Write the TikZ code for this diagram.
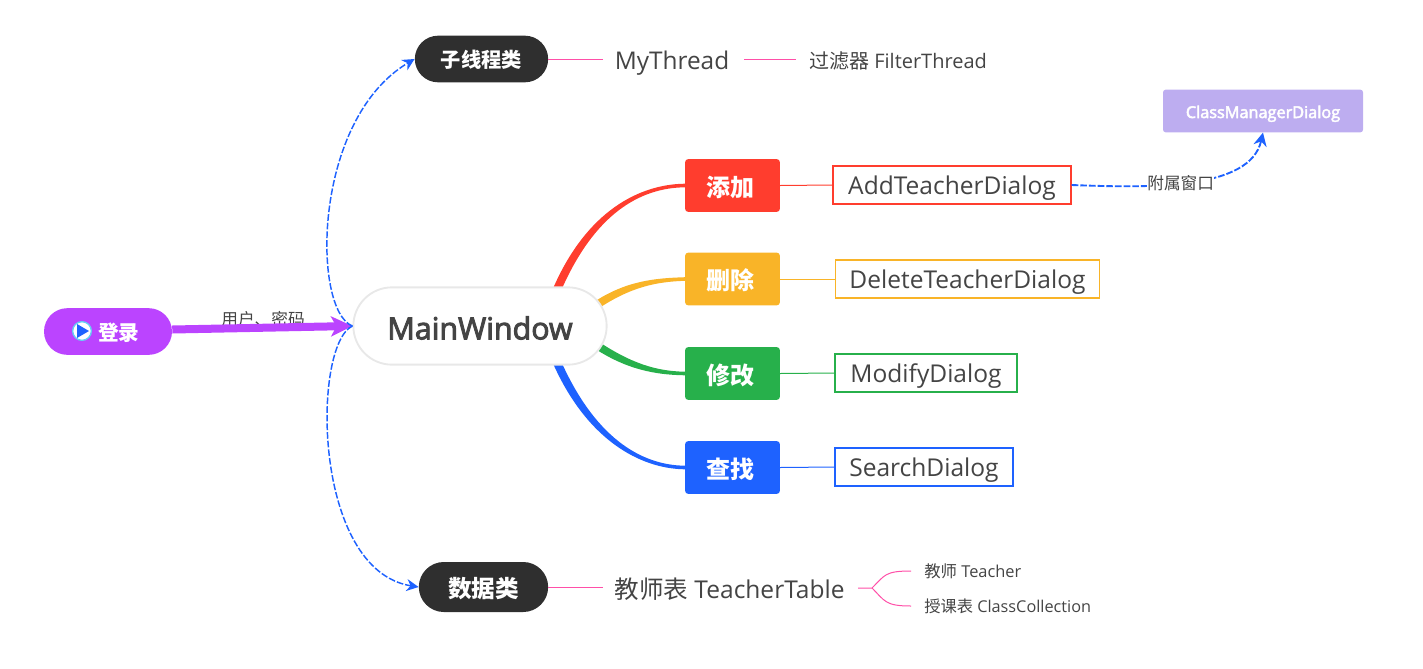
\documentclass[tikz,border=0pt]{standalone}
\usepackage{fontspec}
\setmainfont{Open Sans}
\newfontfamily\cjk{Noto Sans CJK SC}
\newfontfamily\heavy[FakeBold=3]{Open Sans}
\usetikzlibrary{arrows.meta,shapes.misc,backgrounds}
\definecolor{mmred}{HTML}{FF3D2E}
\definecolor{mmyellow}{HTML}{F9B428}
\definecolor{mmgreen}{HTML}{27B04B}
\definecolor{mmblue}{HTML}{1E62FF}
\definecolor{mmpurple}{HTML}{BB44FF}
\definecolor{mmdark}{HTML}{2F2F2F}
\definecolor{mmlilac}{HTML}{BDADF0}
\definecolor{mmpink}{HTML}{FF4FA8}
\definecolor{mmtext}{HTML}{444444}
\tikzstyle{pill}=[rounded rectangle,text=white,inner sep=0pt]
\tikzstyle{branch}=[rounded corners=2.2pt,text=white,font=\cjk\bfseries\fontsize{18}{20}\selectfont,minimum width=71pt,minimum height=39.5pt,text height=16pt,text depth=0pt,inner sep=0pt,execute at end node={\hspace{3pt}}]
\tikzstyle{dialog}=[draw,line width=1.4pt,text=mmtext,fill=white,font=\fontsize{18.4}{20}\selectfont,minimum height=28.5pt,text height=14.5pt,text depth=0pt,inner sep=0pt]
\tikzstyle{plain}=[text=mmtext,inner sep=0pt]
\tikzstyle{thin}=[line width=0.75pt]
\tikzstyle{linked}=[mmblue,line width=1.1pt,dash pattern=on 5pt off 1.5pt,-{Stealth[length=9pt,width=9pt]}]
\newcommand{\limb}[7]{\fill[#1] ([shift={(#6,#7)}]#2) .. controls ([shift={(#6,#7)}]#3) and ([shift={(0,-1.8)}]#4) .. ([shift={(0,-1.8)}]#5.west) -- ([shift={(0,1.8)}]#5.west) .. controls ([shift={(0,1.8)}]#4) and ([shift={(#6*-1,#7*-1)}]#3) .. ([shift={(#6*-1,#7*-1)}]#2) -- cycle;}
\begin{document}
\begin{tikzpicture}[x=0.75pt,y=-0.75pt]
\useasboundingbox (0,0) rectangle (1423,668);
\node (main) at (480,326) [rounded rectangle,draw=black!9,line width=1.4pt,fill=white,text=mmtext,font=\heavy\fontsize{22.8}{28}\selectfont,minimum width=190pt,minimum height=58pt,text height=20pt,text depth=0pt,inner sep=0pt] {MainWindow};
\node (login) at (108,331.5) [pill,fill=mmpurple,minimum width=96pt,minimum height=35pt,font=\cjk\bfseries\fontsize{15.5}{18}\selectfont,text height=13.5pt,text depth=0pt] {\hspace{16pt}登录};
\node (play) at (82,331) [circle,fill=white,draw=cyan!60,line width=1pt,minimum size=14pt,inner sep=0pt] {};
\fill[mmblue] (77,324) -- (89,331) -- (77,338) -- cycle;
\node (thread) at (481.5,59) [pill,fill=mmdark,minimum width=100pt,minimum height=35pt,font=\cjk\bfseries\fontsize{15.2}{18}\selectfont,text height=13pt,text depth=0pt] {子线程类};
\node (data) at (483.5,587) [pill,fill=mmdark,minimum width=97pt,minimum height=37.5pt,font=\cjk\bfseries\fontsize{17.7}{20}\selectfont,text height=15.5pt,text depth=0pt] {数据类\hspace{2pt}};

\node (add) at (732.5,185.5) [branch,fill=mmred] {添加};
\node (del) at (732.5,279) [branch,fill=mmyellow] {删除};
\node (mod) at (732.5,373.5) [branch,fill=mmgreen] {修改};
\node (find) at (732.5,467.5) [branch,fill=mmblue] {查找};

\node (adddlg) at (952,185) [dialog,draw=mmred,minimum width=178pt] {AddTeacherDialog};
\node (deldlg) at (967.5,279) [dialog,draw=mmyellow,minimum width=198pt] {DeleteTeacherDialog};
\node (moddlg) at (926,373) [dialog,draw=mmgreen,minimum width=136pt] {ModifyDialog};
\node (finddlg) at (924,467) [dialog,draw=mmblue,minimum width=133pt] {SearchDialog};
\node (cmdlg) at (1263,111) [rounded corners=2pt,fill=mmlilac,text=white,font=\heavy\fontsize{12.2}{15}\selectfont,minimum width=150pt,minimum height=32pt,text height=10.5pt,text depth=0pt,inner sep=0pt] {ClassManagerDialog};

\node (mythread) at (672,60.5) [plain,font=\fontsize{18.3}{20}\selectfont,text height=14.2pt,text depth=0pt] {MyThread};
\node (filter) at (898,60.5) [plain,font=\fontsize{15}{18}\selectfont] {{\cjk 过滤器} FilterThread};
\node (table) at (729.5,589) [plain,font=\fontsize{18.4}{20}\selectfont] {{\cjk 教师表} TeacherTable};
\node (teacher) [anchor=west] at (924,571) [plain,font=\fontsize{12.3}{15}\selectfont] {{\cjk 教师} Teacher};
\node (collect) [anchor=west] at (924,606) [plain,font=\fontsize{12.2}{15}\selectfont] {{\cjk 授课表} ClassCollection};
\coordinate (fork) at (872,588);
\coordinate (threadend) at (603,59);
\coordinate (filterstart) at (744,59);
\coordinate (filterend) at (796,59);
\coordinate (dataend) at (603,587);
\coordinate (tablestart) at (858,588);
\coordinate (teacherend) at (911,571);
\coordinate (collectend) at (911,606);

% thick limbs
\begin{scope}[on background layer]
\coordinate (redroot) at (556,292);
\coordinate (yellowroot) at (595,306);
\coordinate (greenroot) at (595,344);
\coordinate (blueroot) at (556,360);
\limb{mmred}{redroot}{590,212}{640,186}{add}{-3.8}{-1.6}
\limb{mmyellow}{yellowroot}{628,284}{655,280}{del}{-2}{-3.4}
\limb{mmgreen}{greenroot}{628,366}{655,373}{mod}{2}{-3.4}
\limb{mmblue}{blueroot}{590,438}{640,467}{find}{3.8}{-1.6}
\node (pwd) at (263,319) [plain,font=\cjk\fontsize{12.5}{15}\selectfont] {用户、密码};
\draw[mmpurple,line width=6pt,-{Stealth[length=16pt,width=15pt,inset=4pt]}] ([shift={(0,-2)}]login.east) -- (main.west);
\end{scope}

\draw[thin,mmpink] (thread.east) -- (threadend);
\draw[thin,mmpink] (filterstart) -- (filterend);
\draw[thin,mmred] (add.east) -- (adddlg.west);
\draw[thin,mmyellow] (del.east) -- (deldlg.west);
\draw[thin,mmgreen] (mod.east) -- (moddlg.west);
\draw[thin,mmblue] (find.east) -- (finddlg.west);
\draw[thin,mmpink] (data.east) -- (dataend);
\draw[thin,mmpink] (tablestart) -- (fork) .. controls (885,575) and (885,571) .. (teacherend);
\draw[thin,mmpink] (fork) .. controls (885,601) and (885,606) .. (collectend);

\draw[linked] (main.west) .. controls (312,310) and (312,120) .. (thread.west);
\draw[linked] (main.west) .. controls (312,345) and (312,570) .. (data.west);
\draw[linked,line width=1.4pt,-{Stealth[length=10pt,width=10pt]}] (adddlg.east) .. controls (1150,188) and (1250,190) .. node[pos=0.45,fill=white,plain,font=\cjk\fontsize{12.5}{15}\selectfont] (sub) {附属窗口} (cmdlg.south);
\end{tikzpicture}
\end{document}
